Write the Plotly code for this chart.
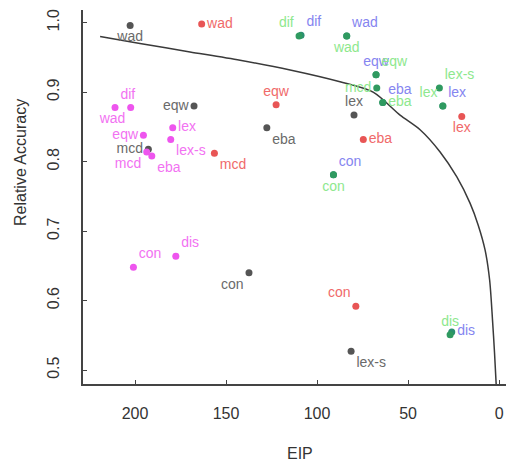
import plotly.graph_objects as go

# ---- data (EIP, Relative Accuracy) ----
gray_labels = ["wad", "eqw", "mcd", "eba", "lex", "con", "lex-s"]
gray_eip = [202.7, 167.6, 192.7, 127.6, 79.7, 137.4, 81.3]
gray_acc = [0.996, 0.880, 0.818, 0.849, 0.867, 0.640, 0.527]
gray_pos = ["bottom center", "middle left", "middle left", "bottom right", "top center", "bottom left", "bottom right"]

red_labels = ["wad", "eqw", "mcd", "eba", "lex", "con"]
red_eip = [163.4, 122.5, 156.4, 74.6, 20.5, 78.7]
red_acc = [0.998, 0.882, 0.812, 0.832, 0.865, 0.592]
red_pos = ["middle right", "top center", "bottom right", "middle right", "bottom center", "top left"]

green_labels = ["dif", "wad", "eqw", "mcd", "eba", "lex-s", "lex", "con", "dis"]
green_eip = [109.9, 83.7, 67.6, 67.2, 63.9, 32.8, 30.9, 91.0, 26.9]
green_acc = [0.981, 0.981, 0.925, 0.906, 0.885, 0.906, 0.880, 0.781, 0.551]
green_pos = ["top left", "bottom center", "top right", "middle left", "middle right", "top right", "top left", "bottom center", "top center"]

blue_labels = ["dif", "wad", "eqw", "eba", "lex", "con", "dis"]
blue_eip = [108.8, 83.7, 67.6, 63.9, 30.9, 91.0, 26.0]
blue_acc = [0.982, 0.981, 0.925, 0.885, 0.880, 0.781, 0.555]
blue_pos = ["top right", "top right", "top center", "top right", "top right", "top right", "middle right"]

mag_labels = ["dif", "wad", "eqw", "lex", "lex-s", "mcd", "eba", "con", "dis"]
mag_eip = [211.0, 202.4, 195.4, 179.3, 180.4, 193.6, 190.8, 200.9, 177.6]
mag_acc = [0.878, 0.878, 0.838, 0.849, 0.832, 0.814, 0.808, 0.648, 0.664]
mag_pos = ["top right", "bottom left", "middle left", "middle right", "bottom right", "bottom left", "bottom right", "top right", "top right"]

# frontier curve
curve_eip = [219.2, 197.3, 169.8, 142.3, 114.8, 87.4, 69.2, 54.4, 43.4, 32.4, 23.2, 15.9, 11.5, 7.7, 5.2, 3.6, 2.5, 1.6]
curve_acc = [0.980, 0.970, 0.958, 0.946, 0.932, 0.915, 0.900, 0.867, 0.846, 0.814, 0.778, 0.740, 0.709, 0.673, 0.630, 0.572, 0.525, 0.480]

x_ticks = [200, 150, 100, 50, 0]
y_ticks = [0.5, 0.6, 0.7, 0.8, 0.9, 1.0]

FONT = "Liberation Sans, Arial, sans-serif"
fig = go.Figure()

fig.add_trace(go.Scatter(x=curve_eip, y=curve_acc, mode="lines",
                         line=dict(color="#3a3a3a", width=1.5, shape="spline", smoothing=0.8),
                         hoverinfo="skip", showlegend=False))

series = [
    (gray_eip, gray_acc, gray_labels, gray_pos, "#555555", "#6a6a6a"),
    (red_eip, red_acc, red_labels, red_pos, "#e85555", "#f06a6a"),
    (mag_eip, mag_acc, mag_labels, mag_pos, "#ee55ee", "#f272f2"),
    (blue_eip, blue_acc, blue_labels, blue_pos, "#2a8f70", "#8585f0"),
    (green_eip, green_acc, green_labels, green_pos, "#2f9a60", "#8ee88e"),
]
for xs, ys, labs, pos, mc, tc in series:
    fig.add_trace(go.Scatter(x=xs, y=ys, mode="markers+text", text=labs, textposition=pos,
                             marker=dict(color=mc, size=7), textfont=dict(color=tc, size=14, family=FONT),
                             cliponaxis=False, showlegend=False))

# page has an 8px body margin; figure is sized/offset to compensate
pw, ph = 431, 374
fig.update_layout(
    width=506, height=456,
    margin=dict(l=75, r=0, t=2, b=80, autoexpand=False),
    paper_bgcolor="white", plot_bgcolor="white",
    font=dict(family=FONT, size=16, color="#333333"),
    showlegend=False,
    xaxis=dict(range=[228.6, -8.2], tickvals=x_ticks, ticktext=[str(v) for v in x_ticks],
               showgrid=False, zeroline=False, showline=True, linecolor="#444444", linewidth=1.5,
               ticks="inside", ticklen=4, tickcolor="#444444", ticklabelstandoff=14, automargin=False,
               tickfont=dict(size=16, color="#333333")),
    yaxis=dict(range=[0.480, 1.0183], tickvals=y_ticks, ticktext=["0.5", "0.6", "0.7", "0.8", "0.9", "1.0"],
               showgrid=False, zeroline=False, showline=True, linecolor="#444444", linewidth=1.5,
               ticks="inside", ticklen=4, tickcolor="#444444", tickangle=-90, ticklabelstandoff=16,
               automargin=False, tickfont=dict(size=16, color="#333333")),
    annotations=[
        dict(text="EIP", xref="paper", yref="paper", x=(300 - 83) / pw, y=1 - (453 - 10) / ph,
             xanchor="center", yanchor="middle", showarrow=False, font=dict(size=16, color="#333333")),
        dict(text="Relative Accuracy", xref="paper", yref="paper", x=(20 - 83) / pw, y=1 - (163 - 10) / ph,
             xanchor="center", yanchor="middle", textangle=-90, showarrow=False,
             font=dict(size=16, color="#333333")),
    ],
)

fig.write_html("out.html")
